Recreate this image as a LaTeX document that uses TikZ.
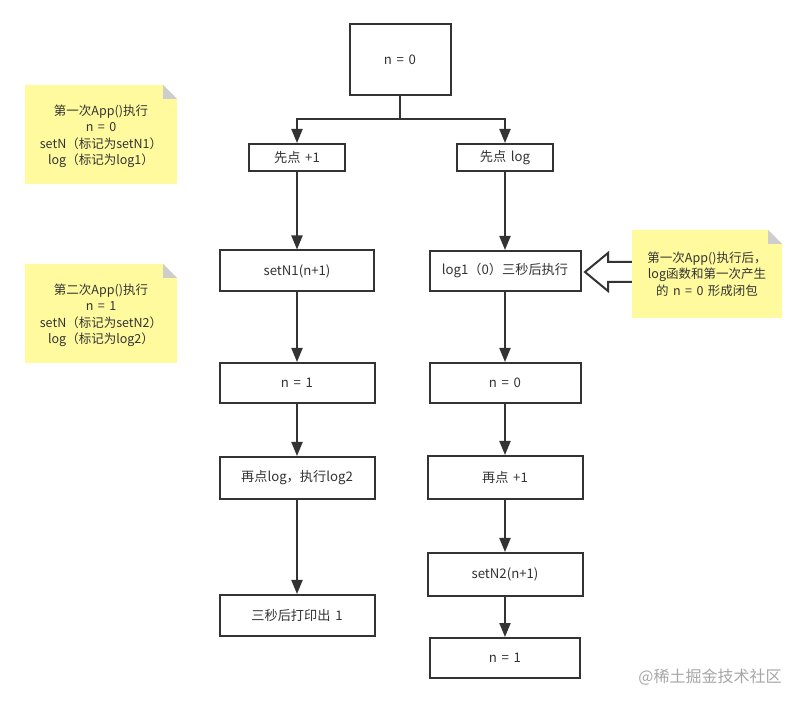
\documentclass[tikz,border=0pt]{standalone}
\usepackage{fontspec}
\setmainfont[WordSpace=1.6]{Noto Sans CJK SC}
\usetikzlibrary{arrows.meta}
\definecolor{ink}{HTML}{333333}
\definecolor{notefill}{HTML}{FFFA9E}
\definecolor{notefold}{HTML}{CDCDCD}
\definecolor{markgray}{HTML}{A6A6A6}

\begin{document}
\begin{tikzpicture}[x=1pt,y=-1pt,
  box/.style={draw=ink,line width=2pt,fill=white,text=ink,inner sep=0pt,
    font=\fontsize{13.2pt}{15pt}\selectfont},
  link/.style={draw=ink,line width=2pt},
  flow/.style={link,-{Triangle[width=11pt,length=14pt]}},
  note/.style={inner sep=0pt,align=center,text=ink,
    minimum width=152pt,font=\fontsize{12.5pt}{16.5pt}\selectfont,
    path picture={
      \fill[notefill] (path picture bounding box.south west)
        -- (path picture bounding box.north west)
        -- ([xshift=-14pt]path picture bounding box.north east)
        -- ([yshift=-14pt]path picture bounding box.north east)
        -- (path picture bounding box.south east) -- cycle;
      \fill[notefold] ([xshift=-14pt]path picture bounding box.north east)
        -- ([xshift=-14pt,yshift=-14pt]path picture bounding box.north east)
        -- ([yshift=-14pt]path picture bounding box.north east) -- cycle;
    }}]

  \useasboundingbox (0,0) rectangle (807,703);

  % Starting state
  \node[box,minimum width=101pt,minimum height=71pt] (start) at (400,59.5) {n = 0};

  % Split into the two clicks
  \coordinate (split) at (400,119);
  \node[box,minimum width=96pt,minimum height=27pt] (addone) at (297,157.5) {先点 +1};
  \node[box,minimum width=96pt,minimum height=27pt] (clicklog) at (505,157.5) {先点 log};

  \draw[link] (start) -- (split);
  \draw[flow] (split) -| (addone);
  \draw[flow] (split) -| (clicklog);

  % Left column: setN1 path
  \node[box,minimum width=154pt,minimum height=41pt] (setfirst) at (297,271) {setN1(n+1)};
  \node[box,minimum width=155pt,minimum height=40pt] (nisone) at (297,383) {n = 1};
  \node[box,minimum width=155pt,minimum height=42pt] (againlog) at (297,478) {再点log，执行log2};
  \node[box,minimum width=155pt,minimum height=41pt] (printone) at (297,615.5) {三秒后打印出 1};

  \draw[flow] (addone) -- (setfirst);
  \draw[flow] (setfirst) -- (nisone);
  \draw[flow] (nisone) -- (againlog);
  \draw[flow] (againlog) -- (printone);

  % Right column: log1 path
  \node[box,minimum width=151pt,minimum height=40pt] (logfirst) at (505,271) {log1（0）三秒后执行};
  \node[box,minimum width=151pt,minimum height=40pt] (niszero) at (505,383) {n = 0};
  \node[box,minimum width=155pt,minimum height=43pt] (againone) at (505,477.5) {再点 +1};
  \node[box,minimum width=155pt,minimum height=43pt] (setsecond) at (505,574.5) {setN2(n+1)};
  \node[box,minimum width=150pt,minimum height=40pt] (nlast) at (505,658) {n = 1};

  \draw[flow] (clicklog) -- (logfirst);
  \draw[flow] (logfirst) -- (niszero);
  \draw[flow] (niszero) -- (againone);
  \draw[flow] (againone) -- (setsecond);
  \draw[flow] (setsecond) -- (nlast);

  % Hollow arrow pointing at log1
  \draw[ink,line width=2pt,fill=white,line join=miter]
    (585,272) -- (608,253) -- (608,262) -- (636,262)
    -- (636,282) -- (608,282) -- (608,291) -- cycle;

  % Sticky notes
  \node[note,minimum height=99pt] (firstrun) at (101,134.5)
    {\rule{0pt}{6pt}\\[-8pt]第一次App()执行\\n = 0\\setN（标记为setN1）\\log（标记为log1）};
  \node[note,minimum height=99pt] (secondrun) at (101,313.5)
    {\rule{0pt}{6pt}\\[-8pt]第二次App()执行\\n = 1\\setN（标记为setN2）\\log（标记为log2）};
  \node[note,minimum width=150pt,minimum height=88pt] (closure) at (707,274)
    {第一次App()执行后，\\log函数和第一次产生\\的 n = 0 形成闭包};

  % Watermark
  \node[text=markgray,font=\fontsize{16pt}{18pt}\selectfont] (mark) at (710,677) {@稀土掘金技术社区};

\end{tikzpicture}
\end{document}
